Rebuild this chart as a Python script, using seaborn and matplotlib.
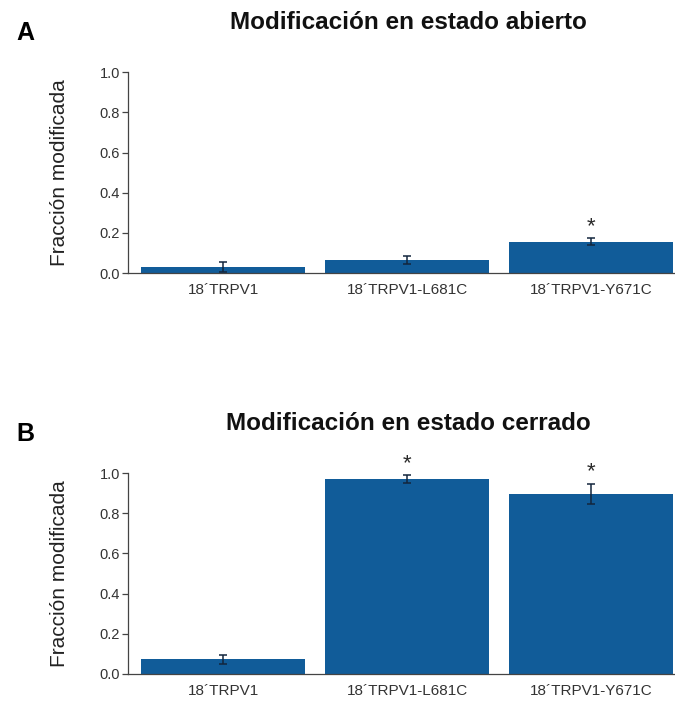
import matplotlib
matplotlib.use("Agg")
import matplotlib.pyplot as plt
import seaborn as sns
import pandas as pd

categories = ["18\u00b4TRPV1", "18\u00b4TRPV1-L681C", "18\u00b4TRPV1-Y671C"]
open_values = [0.030, 0.066, 0.157]
open_errors = [0.026, 0.019, 0.016]
open_stars = ["", "", "*"]
closed_values = [0.073, 0.969, 0.896]
closed_errors = [0.022, 0.020, 0.052]
closed_stars = ["", "*", "*"]
titles = ["Modificación en estado abierto", "Modificación en estado cerrado"]
panel_letters = ["A", "B"]
yticks = [0.0, 0.2, 0.4, 0.6, 0.8, 1.0]
ylabel = "Fracción modificada"

sns.set_theme(style="ticks")
plt.rcParams["font.family"] = ["Liberation Sans", "DejaVu Sans"]

bar_color = "#115c99"
fig = plt.figure(figsize=(6.75, 7.02), dpi=100)

panels = [
    (open_values, open_errors, open_stars, [0.190, 0.611, 0.81, 0.286]),
    (closed_values, closed_errors, closed_stars, [0.190, 0.040, 0.81, 0.286]),
]

for i, (vals, errs, stars, rect) in enumerate(panels):
    ax = fig.add_axes(rect)
    df = pd.DataFrame({"cat": categories, "val": vals})
    sns.barplot(data=df, x="cat", y="val", color=bar_color, width=0.89,
                saturation=1, errorbar=None, ax=ax, linewidth=0)
    ax.errorbar(range(len(vals)), vals, yerr=errs, fmt="none",
                ecolor="#13263d", elinewidth=1.1, capsize=3, capthick=1.1)
    for j, s in enumerate(stars):
        if s:
            ax.text(j, vals[j] + errs[j] + 0.008, s, ha="center", va="bottom",
                    fontsize=16, color="#2a2a2a", clip_on=False)
    ax.set_xlim(-0.516, 2.457)
    ax.set_ylim(0, 1.0)
    ax.set_yticks(yticks)
    ax.set_yticklabels([f"{t:.1f}" for t in yticks])
    ax.set_xlabel("")
    ax.set_ylabel(ylabel, fontsize=15, color="#222222", labelpad=22)
    sns.despine(ax=ax)
    ax.spines["left"].set_color("#444444")
    ax.spines["bottom"].set_color("#444444")
    ax.spines["left"].set_linewidth(0.9)
    ax.spines["bottom"].set_linewidth(0.9)
    ax.tick_params(axis="y", length=4, width=0.9, colors="#444444",
                   labelsize=10.5, labelcolor="#333333", pad=2)
    ax.tick_params(axis="x", length=0, labelsize=11, labelcolor="#333333", pad=7)
    top_px = (1 - (rect[1] + rect[3])) * 702
    fig.text(408 / 675, 1 - (top_px - 50) / 702, titles[i], ha="center",
             va="center", fontsize=17.5, fontweight="bold", color="#111111")
    fig.text(25 / 675, 1 - (top_px - 39) / 702, panel_letters[i], ha="center",
             va="center", fontsize=18, fontweight="bold", color="#000000")

fig.savefig("out.png", dpi=100, facecolor="white")
